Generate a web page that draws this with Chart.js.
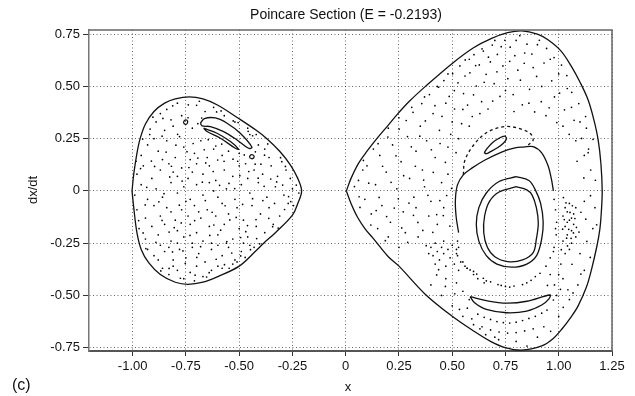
<!DOCTYPE html>
<html>
<head>
<meta charset="utf-8">
<script src="https://cdn.jsdelivr.net/npm/chart.js@4.4.1/dist/chart.umd.min.js"></script>
<style>
  html, body { margin: 0; padding: 0; background: #fff; }
  canvas { display: block; }
</style>
</head>
<body>
<canvas id="poincare" width="635" height="396"></canvas>
<script>
// Axis ticks
const xTicks = [-1.0, -0.75, -0.5, -0.25, 0, 0.25, 0.5, 0.75, 1.0, 1.25];
const yTicks = [-0.75, -0.5, -0.25, 0, 0.25, 0.5, 0.75];

// Energy boundary, left well (closed loop)
const leftBoundary = [
  [-1.003, 0], [-0.995, 0.08], [-0.98, 0.18], [-0.965, 0.25], [-0.94, 0.32], [-0.9, 0.38],
  [-0.85, 0.42], [-0.8, 0.44], [-0.735, 0.45], [-0.67, 0.44], [-0.6, 0.41], [-0.5, 0.345],
  [-0.42, 0.29], [-0.37, 0.25], [-0.31, 0.19], [-0.26, 0.125], [-0.225, 0.06], [-0.207, 0],
  [-0.225, -0.06], [-0.25, -0.116], [-0.33, -0.2], [-0.385, -0.25], [-0.42, -0.285], [-0.5, -0.36],
  [-0.6, -0.41], [-0.67, -0.437], [-0.74, -0.447], [-0.8, -0.437], [-0.87, -0.4], [-0.925, -0.343],
  [-0.96, -0.28], [-0.98, -0.2], [-0.995, -0.08], [-1.003, 0]
];

// Energy boundary, right well (closed loop)
const rightBoundary = [
  [0.003, 0], [0.025, 0.06], [0.06, 0.132], [0.1, 0.19], [0.146, 0.25], [0.2, 0.315], [0.24, 0.364],
  [0.3, 0.43], [0.373, 0.499], [0.5, 0.61], [0.6, 0.685], [0.685, 0.73], [0.76, 0.757], [0.826, 0.766],
  [0.9, 0.75], [0.951, 0.722], [1.01, 0.67], [1.06, 0.595], [1.1, 0.52], [1.138, 0.435], [1.165, 0.34],
  [1.185, 0.244], [1.198, 0.13], [1.204, 0], [1.2, -0.1], [1.193, -0.183], [1.18, -0.26], [1.154, -0.375],
  [1.13, -0.46], [1.091, -0.55], [1.06, -0.6], [1.014, -0.662], [0.97, -0.71], [0.92, -0.742],
  [0.826, -0.762], [0.748, -0.75], [0.68, -0.72], [0.6, -0.67], [0.5, -0.6], [0.373, -0.494],
  [0.25, -0.36], [0.2, -0.315], [0.13, -0.228], [0.09, -0.18], [0.055, -0.125], [0.025, -0.06], [0.003, 0]
];

// Island chain in the left well
const leftIslandA = [[-0.762, 0.325], [-0.757, 0.337], [-0.745, 0.338], [-0.742, 0.328], [-0.75, 0.318], [-0.762, 0.325]];
const leftIslandB = [[-0.452, 0.16], [-0.447, 0.172], [-0.435, 0.172], [-0.43, 0.162], [-0.44, 0.154], [-0.452, 0.16]];
const leftBananaOuter = [
  [-0.682, 0.324], [-0.663, 0.346], [-0.612, 0.349], [-0.557, 0.324], [-0.495, 0.276], [-0.44, 0.209],
  [-0.456, 0.204], [-0.51, 0.244], [-0.573, 0.284], [-0.635, 0.308], [-0.674, 0.311], [-0.682, 0.324]
];
const leftBananaInner = [
  [-0.667, 0.3], [-0.604, 0.276], [-0.541, 0.236], [-0.503, 0.2], [-0.518, 0.204], [-0.588, 0.252],
  [-0.651, 0.284], [-0.667, 0.3]
];

// Tori in the right well
const smallEllipse = [
  [0.65, 0.183], [0.665, 0.205], [0.69, 0.232], [0.72, 0.252], [0.745, 0.262], [0.755, 0.25],
  [0.74, 0.228], [0.71, 0.205], [0.68, 0.188], [0.66, 0.178], [0.65, 0.183]
];
const dashedArc = [
  [0.552, 0.077], [0.56, 0.148], [0.607, 0.228], [0.67, 0.284], [0.748, 0.308], [0.81, 0.3],
  [0.865, 0.276], [0.88, 0.244], [0.857, 0.22]
];
const ringSolid = [
  [0.53, -0.2], [0.518, -0.12], [0.515, -0.04], [0.525, 0.03], [0.552, 0.077], [0.592, 0.109],
  [0.654, 0.148], [0.732, 0.186], [0.795, 0.206], [0.835, 0.21], [0.88, 0.212], [0.92, 0.182],
  [0.95, 0.12], [0.965, 0.06], [0.975, 0.0]
];
const ovalOuter = [
  [0.8, 0.068], [0.86, 0.05], [0.89, 0.005], [0.915, -0.06], [0.927, -0.15], [0.92, -0.23],
  [0.896, -0.31], [0.85, -0.35], [0.78, -0.365], [0.71, -0.35], [0.66, -0.31], [0.625, -0.24],
  [0.613, -0.16], [0.625, -0.08], [0.66, -0.01], [0.72, 0.045], [0.8, 0.068]
];
const ovalInner = [
  [0.8, 0.02], [0.85, 0.005], [0.875, -0.02], [0.895, -0.08], [0.904, -0.155], [0.895, -0.23],
  [0.88, -0.295], [0.83, -0.33], [0.76, -0.338], [0.7, -0.315], [0.665, -0.27], [0.648, -0.2],
  [0.652, -0.12], [0.675, -0.05], [0.72, -0.005], [0.8, 0.02]
];
const crescent = [
  [0.584, -0.506], [0.66, -0.525], [0.756, -0.537], [0.85, -0.528], [0.959, -0.498], [0.955, -0.515],
  [0.92, -0.546], [0.85, -0.575], [0.756, -0.583], [0.66, -0.567], [0.605, -0.535], [0.584, -0.506]
];

// Sparse dotted tori (lower half of the ring, arcs under the crescent)
const ringDots = [
  [0.525, -0.24], [0.52, -0.28], [0.525, -0.31], [0.54, -0.34], [0.56, -0.36], [0.584, -0.378],
  [0.615, -0.398], [0.646, -0.418], [0.68, -0.435], [0.715, -0.448], [0.75, -0.457], [0.79, -0.455],
  [0.83, -0.448], [0.87, -0.428], [0.912, -0.394], [0.94, -0.36], [0.96, -0.32], [0.978, -0.27],
  [0.988, -0.21], [0.99, -0.15], [0.985, -0.09], [0.978, -0.04], [0.6, -0.385], [0.73, -0.452], [0.85, -0.44],
  [0.53, -0.27], [0.57, -0.37], [0.66, -0.43], [0.77, -0.46], [0.89, -0.41], [0.975, -0.29], [0.985, -0.18]
];
const arcDots = [
  [0.62, -0.59], [0.65, -0.605], [0.68, -0.615], [0.71, -0.625], [0.74, -0.63], [0.77, -0.632],
  [0.8, -0.628], [0.83, -0.62], [0.86, -0.61], [0.89, -0.6], [0.92, -0.585], [0.945, -0.57],
  [0.64, -0.65], [0.68, -0.665], [0.72, -0.675], [0.76, -0.68], [0.8, -0.678], [0.84, -0.67], [0.88, -0.66]
];

// Chaotic sea, left well
const leftSea = [
  [-0.84, 0.39], [-0.79, 0.42], [-0.7, 0.41], [-0.66, 0.38], [-0.77, 0.36], [-0.62, 0.4], [-0.87, 0.37],
  [-0.92, 0.27], [-0.89, 0.33], [-0.85, 0.29], [-0.81, 0.31], [-0.78, 0.26], [-0.72, 0.3], [-0.74, 0.35],
  [-0.57, 0.36], [-0.52, 0.33], [-0.46, 0.3], [-0.42, 0.27], [-0.45, 0.27], [-0.9, 0.25], [-0.82, 0.34],
  [-0.96, 0.17], [-0.93, 0.22], [-0.88, 0.19], [-0.84, 0.24], [-0.8, 0.16], [-0.76, 0.21], [-0.71, 0.18],
  [-0.68, 0.24], [-0.65, 0.16], [-0.62, 0.2], [-0.58, 0.17], [-0.55, 0.19], [-0.5, 0.18], [-0.47, 0.13],
  [-0.38, 0.2], [-0.36, 0.16], [-0.41, 0.22], [-0.73, 0.15], [-0.86, 0.15], [-0.61, 0.215],
  [-0.98, 0.08], [-0.95, 0.12], [-0.91, 0.06], [-0.87, 0.1], [-0.83, 0.13], [-0.79, 0.07], [-0.77, 0.11],
  [-0.74, 0.06], [-0.7, 0.13], [-0.67, 0.08], [-0.64, 0.12], [-0.61, 0.05], [-0.57, 0.1], [-0.53, 0.07],
  [-0.5, 0.12], [-0.46, 0.06], [-0.43, 0.1], [-0.39, 0.08], [-0.35, 0.12], [-0.32, 0.07], [-0.28, 0.1],
  [-0.26, 0.06], [-0.3, 0.14], [-0.81, 0.09], [-0.72, 0.09],
  [-0.99, -0.02], [-0.96, 0.03], [-0.93, -0.04], [-0.89, 0.01], [-0.86, -0.03], [-0.82, 0.04], [-0.79, -0.01],
  [-0.76, 0.02], [-0.73, -0.04], [-0.7, 0.03], [-0.67, -0.02], [-0.64, 0.04], [-0.6, -0.03], [-0.56, 0.01],
  [-0.52, -0.04], [-0.49, 0.03], [-0.45, -0.01], [-0.41, 0.04], [-0.37, -0.03], [-0.33, 0.02], [-0.29, -0.02],
  [-0.25, 0.01], [-0.22, -0.01], [-0.75, -0.05], [-0.62, 0.0],
  [-0.98, -0.09], [-0.94, -0.13], [-0.9, -0.07], [-0.87, -0.12], [-0.84, -0.08], [-0.8, -0.14], [-0.77, -0.09],
  [-0.74, -0.12], [-0.71, -0.07], [-0.68, -0.13], [-0.65, -0.09], [-0.61, -0.12], [-0.58, -0.06], [-0.55, -0.11],
  [-0.51, -0.08], [-0.48, -0.14], [-0.44, -0.07], [-0.4, -0.11], [-0.36, -0.08], [-0.31, -0.12], [-0.27, -0.06],
  [-0.245, -0.07], [-0.69, -0.1], [-0.82, -0.1],
  [-0.97, -0.18], [-0.94, -0.23], [-0.91, -0.17], [-0.88, -0.21], [-0.85, -0.16], [-0.82, -0.24], [-0.79, -0.19],
  [-0.76, -0.22], [-0.73, -0.16], [-0.7, -0.2], [-0.67, -0.24], [-0.64, -0.17], [-0.6, -0.21], [-0.57, -0.16],
  [-0.53, -0.23], [-0.5, -0.18], [-0.46, -0.22], [-0.42, -0.17], [-0.38, -0.2], [-0.34, -0.16], [-0.63, -0.25],
  [-0.72, -0.25], [-0.48, -0.25],
  [-0.93, -0.28], [-0.9, -0.31], [-0.87, -0.26], [-0.85, -0.29], [-0.83, -0.27], [-0.81, -0.33], [-0.78, -0.28],
  [-0.75, -0.32], [-0.72, -0.27], [-0.69, -0.3], [-0.66, -0.34], [-0.63, -0.28], [-0.6, -0.26], [-0.58, -0.31],
  [-0.55, -0.27], [-0.52, -0.33], [-0.49, -0.29], [-0.45, -0.26], [-0.43, -0.27], [-0.88, -0.33], [-0.79, -0.25],
  [-0.56, -0.25],
  [-0.86, -0.37], [-0.83, -0.4], [-0.79, -0.38], [-0.76, -0.42], [-0.73, -0.39], [-0.7, -0.36], [-0.67, -0.41],
  [-0.63, -0.38], [-0.6, -0.36], [-0.58, -0.37], [-0.53, -0.35], [-0.51, -0.34], [-0.81, -0.36], [-0.71, -0.43],
  [-0.912, 0.143], [-0.877, -0.052], [-0.843, 0.186], [-0.805, -0.176], [-0.768, 0.047], [-0.731, -0.213],
  [-0.694, 0.157], [-0.659, -0.046], [-0.622, 0.093], [-0.587, -0.188], [-0.548, 0.036], [-0.514, -0.127],
  [-0.476, 0.172], [-0.437, -0.037], [-0.398, 0.128], [-0.361, -0.131], [-0.324, 0.043], [-0.287, -0.089],
  [-0.951, -0.201], [-0.934, 0.017], [-0.897, 0.117], [-0.862, -0.141], [-0.826, 0.067], [-0.789, 0.271],
  [-0.753, -0.347], [-0.716, 0.227], [-0.681, -0.267], [-0.645, 0.245], [-0.608, -0.327], [-0.571, 0.142],
  [-0.535, -0.297], [-0.497, 0.073], [-0.461, -0.166], [-0.424, 0.187], [-0.389, -0.046], [-0.352, 0.057],
  [-0.317, -0.178], [-0.283, 0.117], [-0.963, 0.107], [-0.941, -0.067], [-0.918, 0.296], [-0.891, -0.246],
  [-0.858, 0.347], [-0.829, -0.371], [-0.797, 0.219], [-0.764, -0.287], [-0.739, 0.412], [-0.707, -0.403],
  [-0.676, 0.349], [-0.641, -0.391], [-0.606, 0.378], [-0.569, -0.353], [-0.528, 0.335], [-0.493, -0.311],
  [-0.458, 0.285], [-0.418, -0.228], [-0.381, 0.171], [-0.343, -0.171], [-0.306, 0.159], [-0.268, -0.027],
  [-0.232, 0.028], [-0.984, 0.142], [-0.972, -0.142], [-0.953, 0.248], [-0.938, -0.276], [-0.905, 0.353],
  [-0.868, -0.383], [-0.812, 0.407], [-0.776, -0.418], [-0.687, 0.429], [-0.653, -0.412], [-0.585, 0.383],
  [-0.547, -0.37], [-0.505, 0.327], [-0.472, -0.318], [-0.437, 0.264], [-0.404, -0.253], [-0.366, 0.225],
  [-0.334, -0.06], [-0.296, 0.028], [-0.258, -0.051], [-0.853, -0.013], [-0.818, 0.118], [-0.781, -0.068],
  [-0.745, 0.188], [-0.709, -0.142], [-0.673, 0.042], [-0.638, -0.213], [-0.601, 0.148], [-0.566, -0.071],
  [-0.529, 0.152], [-0.493, -0.223], [-0.455, 0.093], [-0.421, -0.137], [-0.383, 0.022], [-0.813, -0.292],
  [-0.772, -0.153], [-0.736, 0.112], [-0.699, -0.318], [-0.664, 0.197], [-0.627, -0.102], [-0.592, 0.027],
  [-0.558, -0.242], [-0.521, 0.011], [-0.484, -0.064], [-0.447, -0.281], [-0.411, 0.061], [-0.862, 0.262],
  [-0.829, -0.197], [-0.694, 0.322], [-0.657, 0.134], [-0.619, -0.163], [-0.582, 0.224], [-0.544, -0.139],
  [-0.507, 0.142], [-0.469, -0.195], [-0.425, 0.128]
];

// Chaotic sea, right well
const rightSea = [
  [0.06, 0.05], [0.09, -0.04], [0.1, 0.12], [0.12, -0.11], [0.14, 0.03], [0.16, 0.17], [0.17, -0.07],
  [0.19, 0.09], [0.21, -0.15], [0.22, 0.22], [0.24, 0.01], [0.26, 0.14], [0.27, -0.1], [0.29, 0.26],
  [0.3, 0.06], [0.32, -0.03], [0.33, 0.19], [0.35, 0.31], [0.36, 0.1], [0.38, 0.24], [0.39, -0.12],
  [0.41, 0.37], [0.42, 0.16], [0.44, 0.29], [0.45, 0.04], [0.47, 0.42], [0.48, 0.21], [0.5, 0.33],
  [0.51, 0.48], [0.53, 0.25], [0.55, 0.39], [0.56, 0.55], [0.58, 0.31], [0.6, 0.46], [0.61, 0.6],
  [0.63, 0.37], [0.65, 0.52], [0.67, 0.64], [0.69, 0.43], [0.71, 0.57], [0.73, 0.69], [0.75, 0.48],
  [0.77, 0.62], [0.79, 0.38], [0.8, 0.72], [0.82, 0.53], [0.84, 0.66], [0.86, 0.42], [0.88, 0.59],
  [0.9, 0.7], [0.92, 0.5], [0.94, 0.36], [0.96, 0.63], [0.98, 0.45], [1.0, 0.56], [1.02, 0.31],
  [1.04, 0.49], [1.06, 0.4], [1.08, 0.24], [1.1, 0.33], [1.12, 0.17],
  [0.2, 0.3], [0.13, 0.2], [0.08, 0.1], [0.25, 0.35], [0.31, 0.4], [0.37, 0.45], [0.43, 0.5],
  [0.48, 0.56], [0.58, 0.63], [0.64, 0.68], [0.7, 0.72],
  [0.15, -0.18], [0.2, -0.22], [0.28, -0.2], [0.33, -0.08], [0.37, 0.02], [0.4, -0.05], [0.43, -0.16],
  [0.46, -0.08], [0.48, 0.08], [0.34, -0.22], [0.25, -0.27],
  [0.4, -0.27], [0.41, -0.31], [0.42, -0.25], [0.43, -0.29], [0.44, -0.33], [0.45, -0.27], [0.46, -0.3],
  [0.47, -0.36], [0.48, -0.28], [0.49, -0.32], [0.5, -0.26], [0.51, -0.35], [0.52, -0.3], [0.53, -0.38],
  [0.55, -0.34], [0.57, -0.37], [0.6, -0.4], [0.42, -0.35], [0.39, -0.3], [0.46, -0.24], [0.62, -0.42],
  [0.65, -0.44],
  [1.02, -0.12], [1.03, -0.08], [1.03, -0.17], [1.04, -0.1], [1.04, -0.21], [1.05, -0.14], [1.05, -0.06],
  [1.06, -0.19], [1.06, -0.25], [1.07, -0.11], [1.07, -0.16], [1.08, -0.22], [1.05, -0.28], [1.03, -0.3],
  [1.02, -0.24], [1.08, -0.08], [1.04, -0.15], [1.06, -0.13], [1.01, -0.35], [1.0, -0.4], [1.1, -0.3],
  [1.12, -0.05], [1.15, 0.1], [1.16, -0.18], [1.14, 0.2], [1.17, -0.08], [1.12, -0.38], [1.09, -0.45],
  [1.13, 0.3],
  [0.4, -0.45], [0.45, -0.5], [0.5, -0.55], [0.55, -0.6], [0.6, -0.64], [0.7, -0.7], [0.8, -0.72],
  [0.9, -0.7], [1.0, -0.6], [1.05, -0.52], [0.98, -0.45], [1.02, -0.42], [0.55, -0.48], [0.52, -0.44],
  [0.47, -0.42], [0.58, -0.52], [0.96, -0.4], [0.99, -0.5], [0.93, -0.65], [0.63, -0.66],
  [0.041, 0.021], [0.067, -0.079], [0.083, 0.146], [0.108, 0.037], [0.118, -0.163], [0.152, 0.226],
  [0.157, -0.031], [0.173, 0.118], [0.186, -0.238], [0.198, 0.258], [0.213, 0.041], [0.228, -0.082],
  [0.236, 0.168], [0.251, 0.296], [0.263, -0.177], [0.272, 0.073], [0.284, 0.337], [0.297, -0.058],
  [0.308, 0.211], [0.316, 0.376], [0.327, 0.118], [0.339, -0.151], [0.348, 0.262], [0.357, 0.418],
  [0.366, 0.052], [0.374, 0.335], [0.386, -0.021], [0.393, 0.461], [0.402, 0.197], [0.411, 0.089],
  [0.419, 0.408], [0.427, -0.113], [0.436, 0.496], [0.443, 0.227], [0.452, 0.357], [0.461, 0.528],
  [0.468, 0.137], [0.474, -0.022], [0.486, 0.452], [0.493, 0.271], [0.502, 0.561], [0.511, 0.392],
  [0.518, 0.183], [0.527, 0.517], [0.536, 0.598], [0.544, 0.322], [0.553, 0.466], [0.561, 0.627],
  [0.572, 0.411], [0.583, 0.565], [0.594, 0.356], [0.602, 0.652], [0.613, 0.502], [0.627, 0.603],
  [0.638, 0.427], [0.646, 0.669], [0.659, 0.558], [0.668, 0.392], [0.679, 0.617], [0.688, 0.698],
  [0.697, 0.513], [0.712, 0.653], [0.724, 0.452], [0.738, 0.598], [0.747, 0.721], [0.761, 0.537],
  [0.772, 0.688], [0.786, 0.461], [0.794, 0.647], [0.808, 0.578], [0.817, 0.743], [0.829, 0.412],
  [0.838, 0.611], [0.851, 0.702], [0.863, 0.486], [0.874, 0.655], [0.887, 0.378], [0.896, 0.548],
  [0.909, 0.721], [0.918, 0.427], [0.931, 0.612], [0.943, 0.682], [0.955, 0.398], [0.967, 0.527],
  [0.978, 0.638], [0.991, 0.327], [1.004, 0.468], [1.013, 0.602], [1.027, 0.388], [1.038, 0.552],
  [1.049, 0.271], [1.061, 0.472], [1.072, 0.338], [1.086, 0.142], [1.094, 0.418], [1.107, 0.251],
  [1.118, 0.062], [1.126, 0.356], [1.138, 0.183], [1.149, -0.023], [1.161, 0.247], [1.172, 0.051],
  [0.063, -0.028], [0.143, -0.094], [0.192, -0.123], [0.247, -0.038], [0.291, -0.246], [0.318, -0.117],
  [0.362, -0.189], [0.378, -0.262], [0.409, -0.198], [0.442, -0.046], [0.458, -0.118], [0.489, -0.168],
  [0.497, 0.012],
  [1.018, -0.183], [1.026, -0.137], [1.034, -0.057], [1.041, -0.263], [1.047, -0.184], [1.053, -0.103],
  [1.058, -0.227], [1.064, -0.071], [1.069, -0.201], [1.076, -0.132], [1.083, -0.174], [1.037, -0.226],
  [1.012, -0.281], [1.022, -0.032], [1.095, -0.197], [1.104, -0.102], [1.132, -0.241], [1.127, -0.135],
  [1.178, -0.162], [1.148, -0.318], [1.062, -0.351], [1.104, -0.398], [1.043, -0.473],
  [0.427, -0.402], [0.468, -0.457], [0.512, -0.492], [0.534, -0.567], [0.571, -0.561], [0.592, -0.612],
  [0.657, -0.688], [0.718, -0.712], [0.851, -0.742], [0.962, -0.672], [1.021, -0.557], [1.067, -0.488],
  [0.975, -0.522], [1.008, -0.471], [0.947, -0.452], [0.436, -0.377]
];

const FONT = "'Liberation Sans', Arial, Helvetica, sans-serif";
const INK = '#111';

function pts(list) {
  return list.map(([x, y]) => ({ x, y }));
}

function curve(list, dash) {
  return {
    data: pts(list),
    showLine: true,
    borderColor: INK,
    borderWidth: 1.3,
    borderDash: dash || [],
    tension: 0.35,
    pointRadius: 0,
    fill: false
  };
}

function dots(list) {
  return {
    data: pts(list),
    showLine: false,
    pointRadius: 0.85,
    pointBorderWidth: 0,
    pointBackgroundColor: '#000'
  };
}

function tickLabel(v) {
  return v === 0 ? '0' : v.toFixed(2);
}

// Outer frame plus title and axis captions
const framePlugin = {
  id: 'frame',
  afterDraw(chart) {
    const { ctx, chartArea: a } = chart;
    ctx.save();
    ctx.strokeStyle = '#666';
    ctx.lineWidth = 1.5;
    ctx.beginPath();
    ctx.moveTo(a.left, a.top);
    ctx.lineTo(a.right, a.top);
    ctx.lineTo(a.right, a.bottom);
    ctx.stroke();

    ctx.fillStyle = INK;
    ctx.textAlign = 'center';
    ctx.textBaseline = 'alphabetic';
    ctx.font = '14px ' + FONT;
    ctx.fillText('Poincare Section (E = -0.2193)', 346, 19);

    ctx.font = '13px ' + FONT;
    ctx.fillText('x', 348, 391);

    ctx.save();
    ctx.translate(37, 190);
    ctx.rotate(-Math.PI / 2);
    ctx.fillText('dx/dt', 0, 0);
    ctx.restore();

    ctx.textAlign = 'left';
    ctx.font = '16px ' + FONT;
    ctx.fillText('(c)', 12, 390);
    ctx.restore();
  }
};

const ctx = document.getElementById('poincare').getContext('2d');

new Chart(ctx, {
  type: 'scatter',
  data: {
    datasets: [
      curve(leftBoundary),
      curve(rightBoundary),
      curve(leftIslandA),
      curve(leftIslandB),
      curve(leftBananaOuter),
      curve(leftBananaInner),
      curve(smallEllipse),
      curve(dashedArc, [3, 3]),
      curve(ringSolid),
      curve(ovalOuter),
      curve(ovalInner),
      curve(crescent),
      dots(ringDots),
      dots(arcDots),
      dots(leftSea),
      dots(rightSea)
    ]
  },
  options: {
    responsive: false,
    animation: false,
    devicePixelRatio: 1,
    layout: { padding: { top: 30, right: 23, bottom: 0, left: 0 } },
    plugins: {
      legend: { display: false },
      tooltip: { enabled: false },
      title: { display: false }
    },
    scales: {
      x: {
        type: 'linear',
        min: -1.205,
        max: 1.25,
        afterFit(scale) { scale.height = 45; },
        afterBuildTicks(scale) { scale.ticks = xTicks.map(v => ({ value: v })); },
        ticks: {
          callback: tickLabel,
          color: INK,
          font: { family: FONT, size: 13 },
          padding: 3,
          maxRotation: 0,
          autoSkip: false
        },
        grid: {
          color: 'rgba(0,0,0,0.6)',
          lineWidth: 1,
          tickLength: 5,
          tickColor: '#333',
          tickWidth: 1,
          tickBorderDash: []
        },
        border: { display: true, color: '#555', width: 2, dash: [1, 2.5] }
      },
      y: {
        type: 'linear',
        min: -0.766,
        max: 0.77,
        afterFit(scale) { scale.width = 89; },
        afterBuildTicks(scale) { scale.ticks = yTicks.map(v => ({ value: v })); },
        ticks: {
          callback: tickLabel,
          color: INK,
          font: { family: FONT, size: 13 },
          padding: 3,
          autoSkip: false
        },
        grid: {
          color: 'rgba(0,0,0,0.6)',
          lineWidth: 1,
          tickLength: 6,
          tickColor: '#333',
          tickWidth: 1,
          tickBorderDash: []
        },
        border: { display: true, color: '#777', width: 1.5, dash: [1, 2.5] }
      }
    }
  },
  plugins: [framePlugin]
});
</script>
</body>
</html>
